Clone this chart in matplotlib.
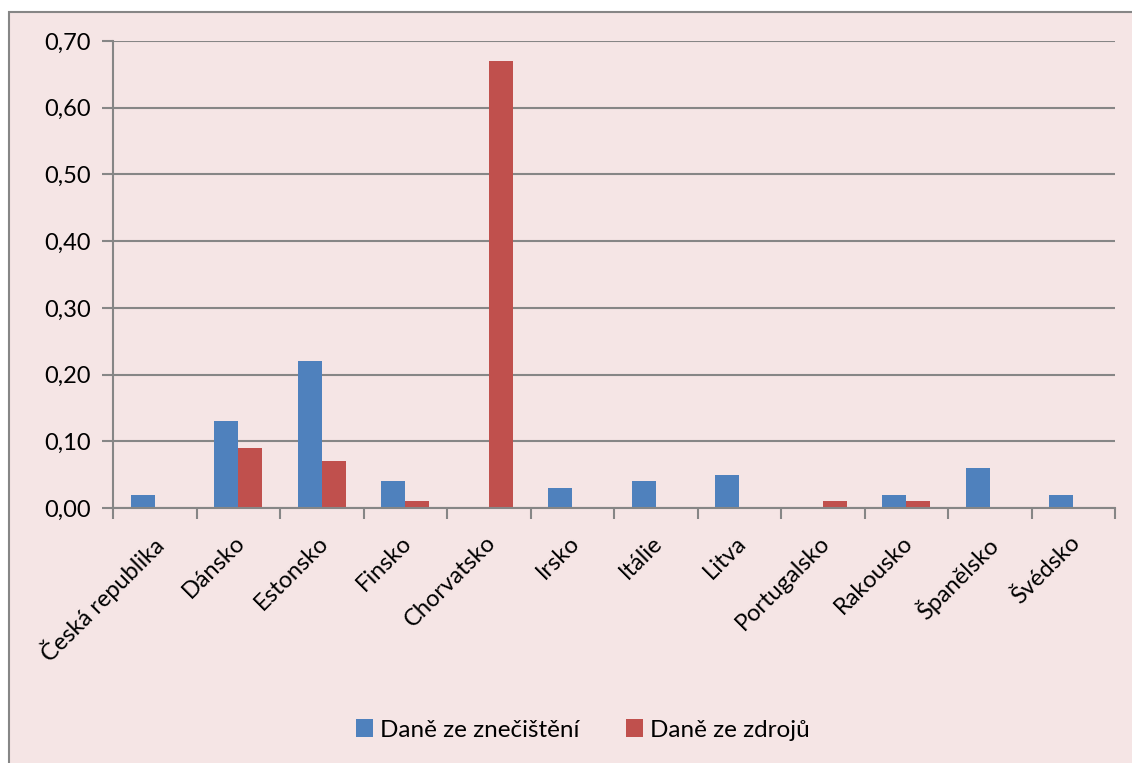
import matplotlib
matplotlib.use("Agg")
import matplotlib.pyplot as plt
from matplotlib.patches import Rectangle
from matplotlib.ticker import FixedLocator, FuncFormatter
import matplotlib.transforms as mtransforms
import numpy as np

countries = ["Česká republika", "Dánsko", "Estonsko", "Finsko", "Chorvatsko", "Irsko",
             "Itálie", "Litva", "Portugalsko", "Rakousko", "Španělsko", "Švédsko"]
pollution_tax = [0.02, 0.13, 0.22, 0.04, 0.00, 0.03, 0.04, 0.05, 0.00, 0.02, 0.06, 0.02]
resource_tax = [0.00, 0.09, 0.07, 0.01, 0.67, 0.00, 0.00, 0.00, 0.01, 0.01, 0.00, 0.00]
series_names = ["Daně ze znečištění", "Daně ze zdrojů"]
y_ticks = [0.0, 0.1, 0.2, 0.3, 0.4, 0.5, 0.6, 0.7]

plt.rcParams['font.family'] = ['Lato', 'DejaVu Sans']

BG = "#F5E5E5"
GRID = "#868686"
BLUE = "#4F81BD"
RED = "#C0504D"
FS = 17

W, H = 1132, 763
fig = plt.figure(figsize=(W / 100, H / 100), dpi=100)
fig.patch.set_facecolor("white")

# chart frame
fig.patches.append(Rectangle((9 / W, -0.01), 1.02 - 9 / W, 1 - 12 / H + 0.01,
                             transform=fig.transFigure, facecolor=BG,
                             edgecolor=GRID, linewidth=1.5, zorder=-5))

left, right, top, bottom = 113, 1115, 41, 508
ax = fig.add_axes([left / W, 1 - bottom / H, (right - left) / W, (bottom - top) / H])
ax.set_facecolor("none")
ax.set_zorder(2)

x = np.arange(len(countries))
bw = 0.29
ax.bar(x - bw / 2, pollution_tax, width=bw, color=BLUE, label=series_names[0], zorder=3)
ax.bar(x + bw / 2, resource_tax, width=bw, color=RED, label=series_names[1], zorder=3)

ax.set_xlim(-0.5, len(countries) - 0.5)
ax.set_ylim(0, 0.70)
ax.set_yticks(y_ticks)
ax.yaxis.set_major_formatter(FuncFormatter(lambda v, p: f"{v:.2f}".replace(".", ",")))
ax.grid(axis="y", color=GRID, linewidth=1.5, zorder=1)
ax.set_axisbelow(True)

for s in ["top", "right"]:
    ax.spines[s].set_visible(False)
for s in ["left", "bottom"]:
    ax.spines[s].set_color(GRID)
    ax.spines[s].set_linewidth(1.5)
    ax.spines[s].set_zorder(4)

ax.tick_params(axis="y", length=8, width=1.5, color=GRID, labelsize=FS, pad=8)
ax.xaxis.set_major_locator(FixedLocator(np.arange(-0.5, len(countries), 1.0)))
ax.xaxis.set_ticklabels([])
ax.tick_params(axis="x", length=8, width=1.5, color=GRID)

offset = mtransforms.ScaledTranslation(-4 / 100, -24 / 100, fig.dpi_scale_trans)
for xi, name in zip(x, countries):
    ax.text(xi, 0, name, rotation=45, ha="right", va="top", rotation_mode="anchor",
            fontsize=FS, transform=ax.get_xaxis_transform() + offset)

leg = fig.legend(loc="center", bbox_to_anchor=(0.515, 1 - 730 / H), ncol=2,
                 frameon=False, fontsize=17.5, handlelength=0.7, handleheight=0.7,
                 handletextpad=0.3, columnspacing=1.9)

fig.savefig("out.png", dpi=100, facecolor=fig.get_facecolor())
